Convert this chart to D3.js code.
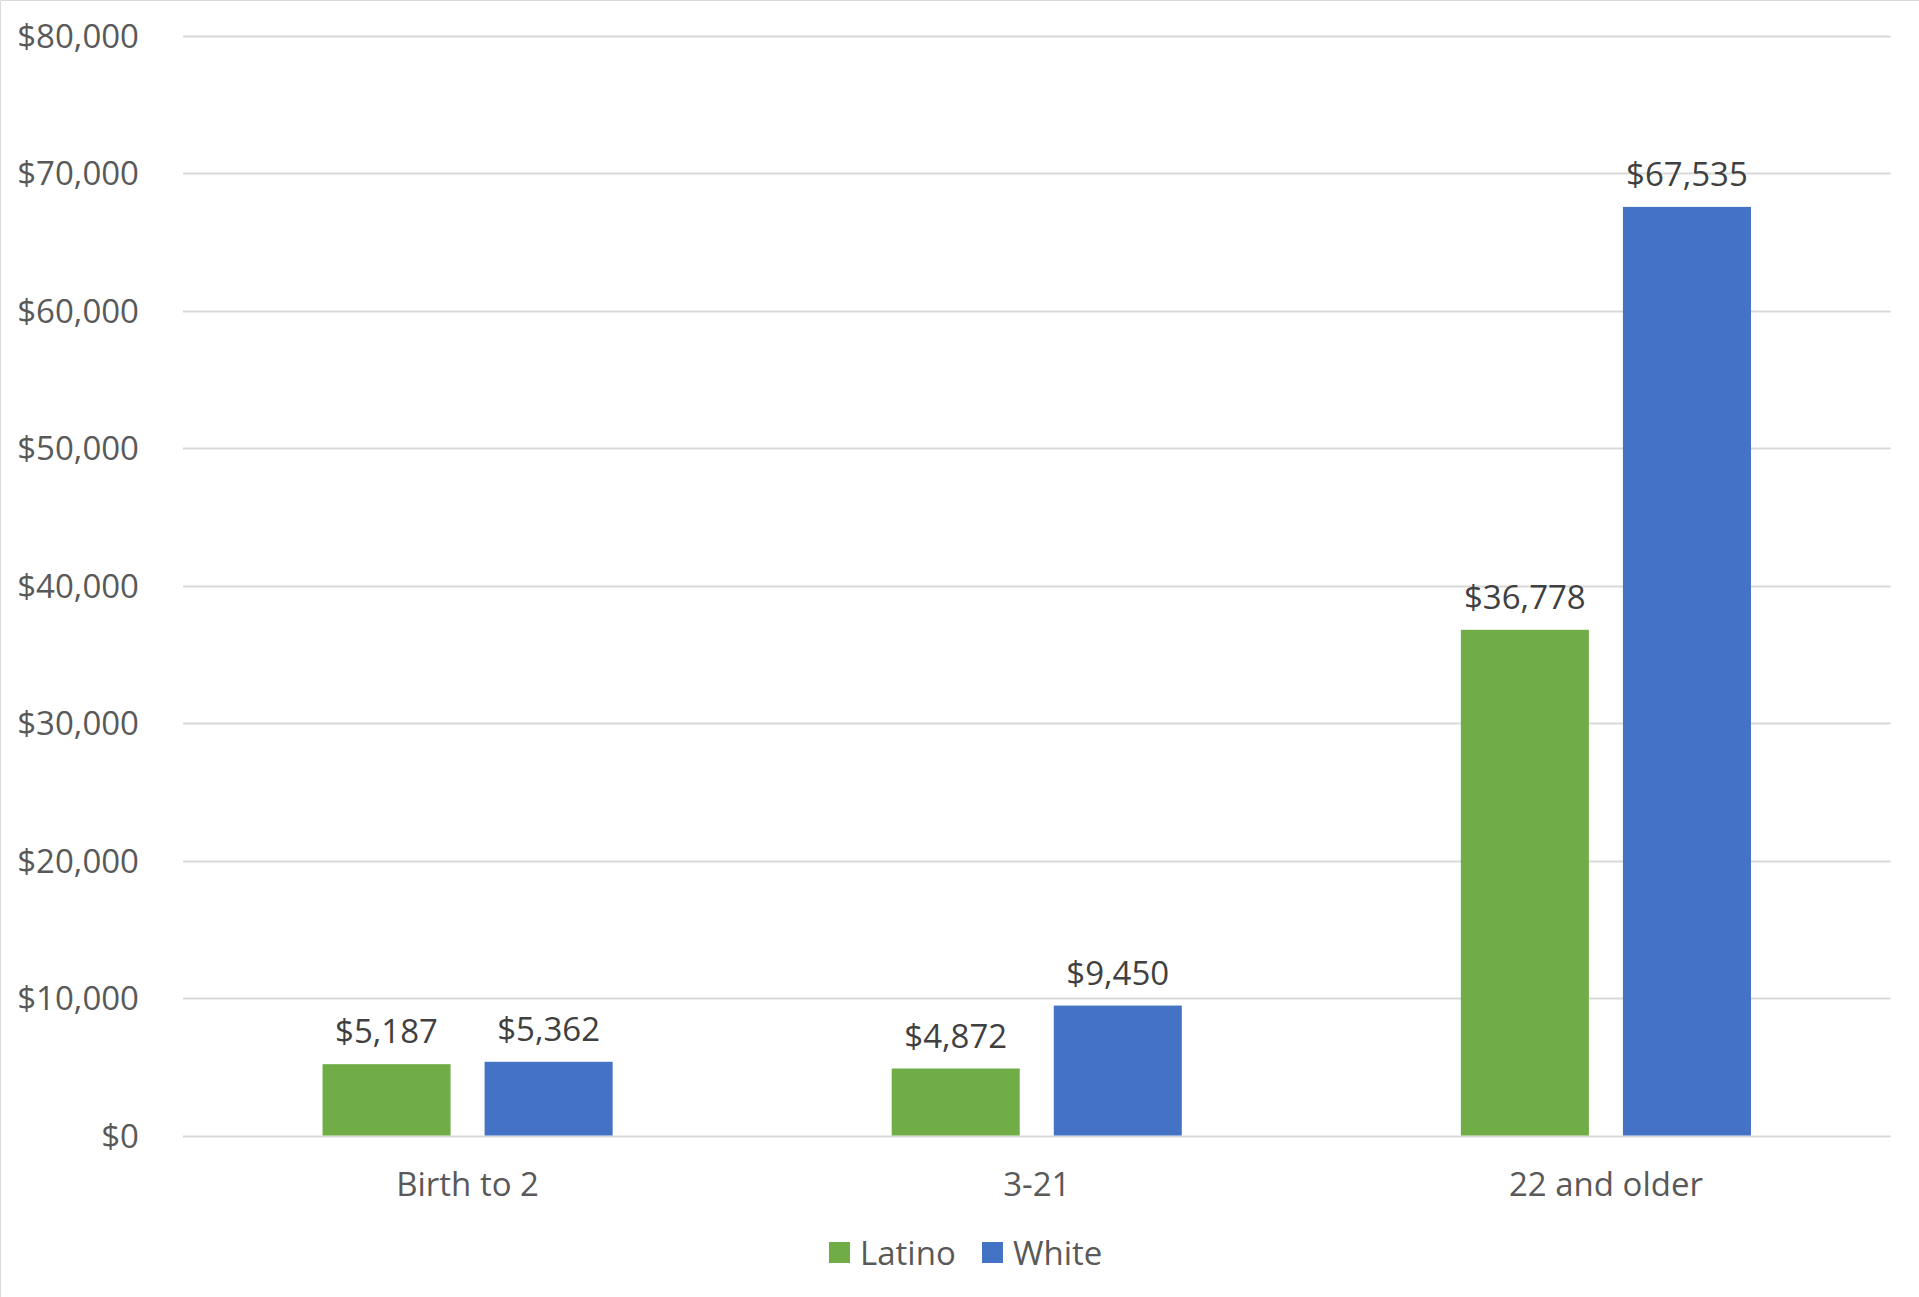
<!DOCTYPE html>
<html>
<head>
<meta charset="utf-8">
<script src="https://cdn.jsdelivr.net/npm/d3@7"></script>
<style>
  html, body { margin: 0; padding: 0; background: #fff; }
  text { font-family: "Open Sans", sans-serif; }
</style>
</head>
<body>
<div class="canvas"></div>
<script>
// Data
const categories = ['Birth to 2', '3-21', '22 and older']
const series = ['Latino', 'White']
const latino = [5187, 4872, 36778]
const white = [5362, 9450, 67535]
const yTicks = [0, 10000, 20000, 30000, 40000, 50000, 60000, 70000, 80000]

const colors = { Latino: '#70ad47', White: '#4472c4' }

const width = 1919
const height = 1297

const svg = d3.select('.canvas')
  .append('svg')
    .attr('width', width)
    .attr('height', height)

// chart border (only top/left edges visible in the crop)
svg.append('path')
  .attr('d', `M0.5,${height} V0.5 H${width}`)
  .attr('fill', 'none')
  .attr('stroke', '#d9d9d9')

// Plot area
const plot = { left: 183, right: 1890.5, top: 35.5, bottom: 1135.5 }

// Scales
const y = d3.scaleLinear()
  .domain([0, 80000])
  .range([plot.bottom, plot.top])

const x0 = d3.scaleBand()
  .domain(categories)
  .range([plot.left, plot.right])
  .padding(0)

const x1 = d3.scaleBand()
  .domain(series)
  .range([0, x0.bandwidth()])
  .paddingInner(0.21)
  .paddingOuter(0.861)

// Gridlines
svg.append('g')
  .selectAll('line')
  .data(yTicks)
  .enter().append('line')
    .attr('x1', plot.left)
    .attr('x2', plot.right)
    .attr('y1', d => Math.round(y(d)) + 0.5)
    .attr('y2', d => Math.round(y(d)) + 0.5)
    .attr('stroke', '#d9d9d9')
    .attr('stroke-width', 2)

// Y axis labels
const fmt = d3.format('$,')
const yAxis = d3.axisLeft(y)
  .tickValues(yTicks)
  .tickFormat(fmt)
  .tickSize(0)
  .tickPadding(0)

const yAxisGroup = svg.append('g')
  .attr('transform', 'translate(139,0)')
  .call(yAxis)
yAxisGroup.select('.domain').remove()
yAxisGroup.selectAll('text')
  .attr('font-family', '"Open Sans", sans-serif')
  .attr('font-size', 33)
  .attr('fill', '#595959')
  .attr('dy', '0.36em')

// X axis labels
const xAxis = d3.axisBottom(x0).tickSize(0).tickPadding(0)
const xAxisGroup = svg.append('g')
  .attr('transform', `translate(0,${plot.bottom})`)
  .call(xAxis)
xAxisGroup.select('.domain').remove()
xAxisGroup.selectAll('text')
  .attr('font-family', '"Open Sans", sans-serif')
  .attr('font-size', 33)
  .attr('fill', '#595959')
  .attr('y', 60)
  .attr('dy', 0)

// Bars
const rows = categories.map((c, i) => ({
  category: c,
  values: [
    { key: 'Latino', value: latino[i] },
    { key: 'White', value: white[i] }
  ]
}))

const groups = svg.append('g')
  .selectAll('g')
  .data(rows)
  .enter().append('g')
    .attr('transform', d => `translate(${x0(d.category)},0)`)

groups.selectAll('rect')
  .data(d => d.values)
  .enter().append('rect')
    .attr('x', d => x1(d.key))
    .attr('y', d => y(d.value))
    .attr('width', x1.bandwidth())
    .attr('height', d => y(0) - y(d.value))
    .attr('fill', d => colors[d.key])

// Data labels
groups.selectAll('text')
  .data(d => d.values)
  .enter().append('text')
    .attr('x', d => x1(d.key) + x1.bandwidth() / 2)
    .attr('y', d => y(d.value) - 21)
    .attr('text-anchor', 'middle')
    .attr('font-size', 33)
    .attr('fill', '#404040')
    .text(d => fmt(d.value))

// Legend
const legendItems = [
  { key: 'Latino', x: 829 },
  { key: 'White', x: 982 }
]
const legend = svg.append('g')
  .selectAll('g')
  .data(legendItems)
  .enter().append('g')
    .attr('transform', d => `translate(${d.x},1242)`)

legend.append('rect')
  .attr('width', 21)
  .attr('height', 21)
  .attr('fill', d => colors[d.key])

legend.append('text')
  .attr('x', 31)
  .attr('y', 23)
  .attr('font-size', 33)
  .attr('fill', '#595959')
  .text(d => d.key)
</script>
</body>
</html>
